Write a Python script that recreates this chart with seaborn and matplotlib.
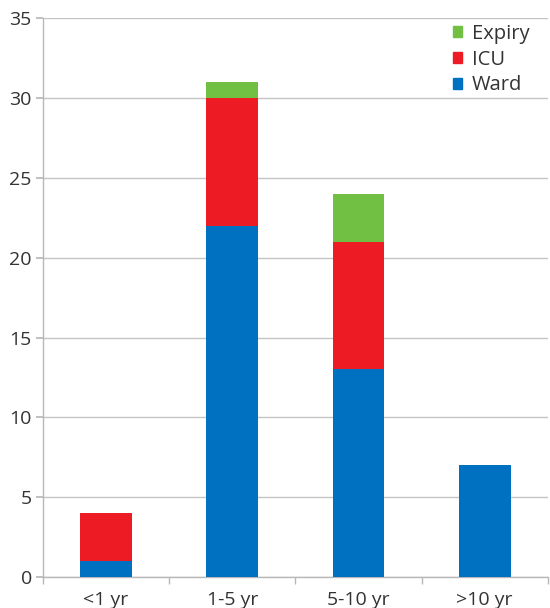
import matplotlib
matplotlib.use("Agg")
import matplotlib.pyplot as plt
from matplotlib.patches import Patch
import seaborn as sns
import pandas as pd
import numpy as np

# Outcome counts by age group
categories = ["<1 yr", "1-5 yr", "5-10 yr", ">10 yr"]
ward = [1, 22, 13, 7]
icu = [3, 8, 8, 0]
expiry = [0, 1, 3, 0]

colors = {"Ward": "#0070C0", "ICU": "#ED1C24", "Expiry": "#72C043"}

sns.set_theme(style="white")
plt.rcParams["font.family"] = ["Open Sans", "DejaVu Sans"]

df = pd.DataFrame({"group": categories, "Ward": ward, "ICU": icu, "Expiry": expiry})
df["ward_icu"] = df["Ward"] + df["ICU"]
df["total"] = df["ward_icu"] + df["Expiry"]

fig = plt.figure(figsize=(5.5, 6.08), dpi=100)
ax = fig.add_axes([0.078, 0.051, 0.918, 0.919])

# Stacked bars: draw cumulative totals back to front
for col, key in [("total", "Expiry"), ("ward_icu", "ICU"), ("Ward", "Ward")]:
    sns.barplot(data=df, x="group", y=col, color=colors[key], width=0.41,
                saturation=1, linewidth=0, ax=ax, zorder=3)

ax.set_ylim(0, 35)
ax.set_xlim(-0.5, 3.5)
ax.set_yticks(np.arange(0, 36, 5))
ax.set_xlabel("")
ax.set_ylabel("")
ax.yaxis.grid(True, color="#C4C4C4", linewidth=1, zorder=0)
ax.set_axisbelow(True)

for side in ["top", "right"]:
    ax.spines[side].set_visible(False)
for side in ["left", "bottom"]:
    ax.spines[side].set_color("#B8B8B8")
    ax.spines[side].set_linewidth(1)

ax.tick_params(axis="y", which="major", left=True, length=5, color="#B8B8B8",
               labelsize=14, labelcolor="#333333", pad=3)
ax.tick_params(axis="x", which="major", length=0, labelsize=14,
               labelcolor="#333333", pad=10)
ax.set_xticks(np.arange(-0.5, 3.6, 1), minor=True)
ax.tick_params(axis="x", which="minor", bottom=True, length=5, color="#B8B8B8")

handles = [Patch(color=colors[k], label=k) for k in ["Expiry", "ICU", "Ward"]]
ax.legend(handles=handles, loc="upper right", frameon=False, fontsize=14.5,
          handlelength=0.45, handleheight=0.45, handletextpad=0.5,
          labelspacing=0.28, bbox_to_anchor=(1.0, 1.022), labelcolor="#333333")

fig.savefig("out.png", dpi=100)
